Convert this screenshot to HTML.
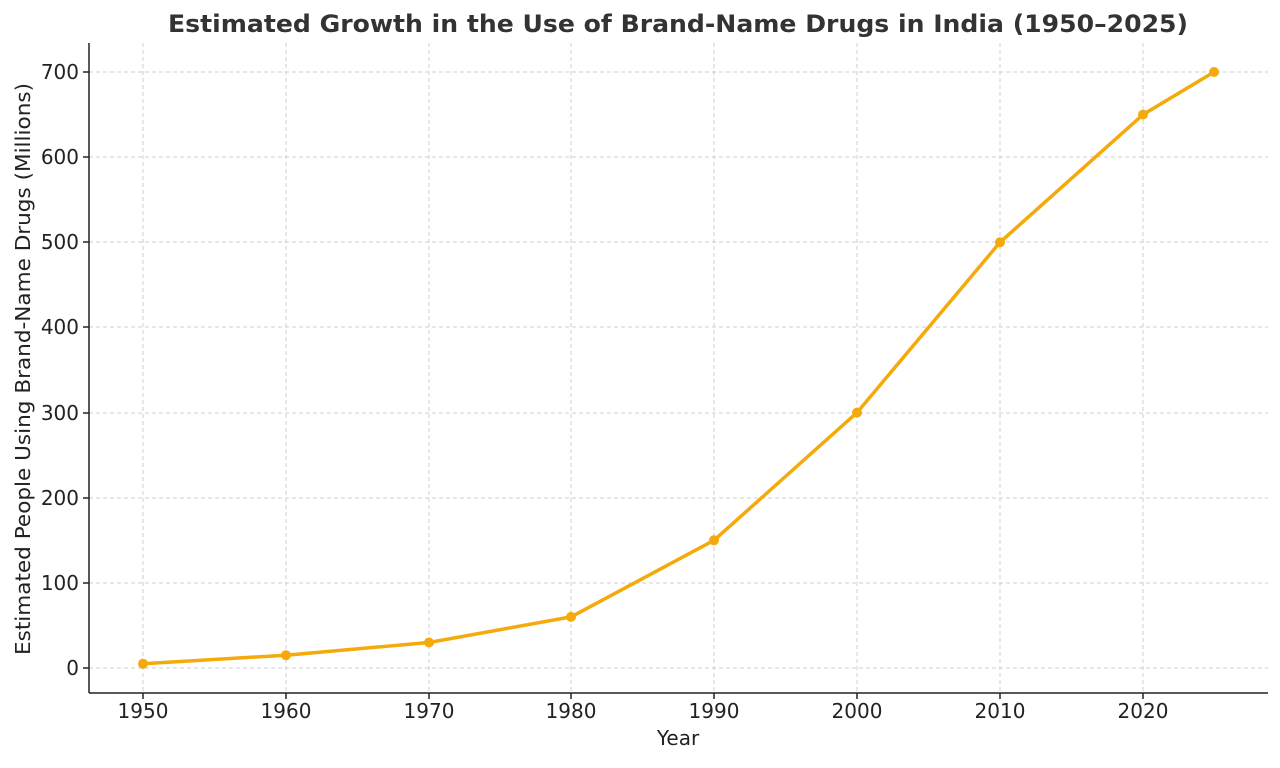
<!DOCTYPE html>
<html><head><meta charset="utf-8"><style>
body{margin:0;background:#fff}
svg text{font-family:"DejaVu Sans","Liberation Sans",sans-serif;fill:#222}
</style></head><body>
<svg width="1280" height="763" xmlns="http://www.w3.org/2000/svg">
<rect width="1280" height="763" fill="#fff"/>
<g stroke="#cfcfcf" stroke-width="1" stroke-dasharray="4,3">
<line x1="143" y1="43" x2="143" y2="693"/><line x1="286" y1="43" x2="286" y2="693"/>
<line x1="429" y1="43" x2="429" y2="693"/><line x1="571" y1="43" x2="571" y2="693"/>
<line x1="714" y1="43" x2="714" y2="693"/><line x1="857" y1="43" x2="857" y2="693"/>
<line x1="1000" y1="43" x2="1000" y2="693"/><line x1="1143" y1="43" x2="1143" y2="693"/>
<line x1="89" y1="668" x2="1268" y2="668"/><line x1="89" y1="583" x2="1268" y2="583"/>
<line x1="89" y1="498" x2="1268" y2="498"/><line x1="89" y1="413" x2="1268" y2="413"/>
<line x1="89" y1="327" x2="1268" y2="327"/><line x1="89" y1="242" x2="1268" y2="242"/>
<line x1="89" y1="157" x2="1268" y2="157"/><line x1="89" y1="72" x2="1268" y2="72"/>
</g>
<g stroke="#222" stroke-width="1.5">
<line x1="89" y1="43" x2="89" y2="693"/><line x1="89" y1="693" x2="1268" y2="693"/>
<line x1="143" y1="693" x2="143" y2="699"/><line x1="286" y1="693" x2="286" y2="699"/>
<line x1="429" y1="693" x2="429" y2="699"/><line x1="571" y1="693" x2="571" y2="699"/>
<line x1="714" y1="693" x2="714" y2="699"/><line x1="857" y1="693" x2="857" y2="699"/>
<line x1="1000" y1="693" x2="1000" y2="699"/><line x1="1143" y1="693" x2="1143" y2="699"/>
<line x1="83" y1="668" x2="89" y2="668"/><line x1="83" y1="583" x2="89" y2="583"/>
<line x1="83" y1="498" x2="89" y2="498"/><line x1="83" y1="413" x2="89" y2="413"/>
<line x1="83" y1="327" x2="89" y2="327"/><line x1="83" y1="242" x2="89" y2="242"/>
<line x1="83" y1="157" x2="89" y2="157"/><line x1="83" y1="72" x2="89" y2="72"/>
</g>
<g font-size="20" text-anchor="middle">
<text x="143" y="718">1950</text><text x="286" y="718">1960</text><text x="429" y="718">1970</text>
<text x="571" y="718">1980</text><text x="714" y="718">1990</text><text x="857" y="718">2000</text>
<text x="1000" y="718">2010</text><text x="1143" y="718">2020</text>
</g>
<g font-size="20" text-anchor="end">
<text x="79" y="675">0</text><text x="79" y="590">100</text><text x="79" y="505">200</text>
<text x="79" y="420">300</text><text x="79" y="334">400</text><text x="79" y="249">500</text>
<text x="79" y="164">600</text><text x="79" y="79">700</text>
</g>
<text x="678" y="745" font-size="20" text-anchor="middle">Year</text>
<text transform="translate(30,369) rotate(-90)" font-size="20" text-anchor="middle" textLength="572" lengthAdjust="spacingAndGlyphs">Estimated People Using Brand-Name Drugs (Millions)</text>
<text x="678" y="32" font-size="24" font-weight="bold" text-anchor="middle" style="fill:#333" textLength="1020" lengthAdjust="spacingAndGlyphs">Estimated Growth in the Use of Brand-Name Drugs in India (1950–2025)</text>
<polyline fill="none" stroke="#f5aa0c" stroke-width="3.5" stroke-linejoin="round" points="143,663.7 286,655.2 429,642.5 571,616.9 714,540.3 857,412.6 1000,242.3 1143,114.6 1214,72"/>
<g fill="#f5aa0c">
<circle cx="143" cy="663.7" r="5"/><circle cx="286" cy="655.2" r="5"/><circle cx="429" cy="642.5" r="5"/>
<circle cx="571" cy="616.9" r="5"/><circle cx="714" cy="540.3" r="5"/><circle cx="857" cy="412.6" r="5"/>
<circle cx="1000" cy="242.3" r="5"/><circle cx="1143" cy="114.6" r="5"/><circle cx="1214" cy="72" r="5"/>
</g>
</svg>
</body></html>
